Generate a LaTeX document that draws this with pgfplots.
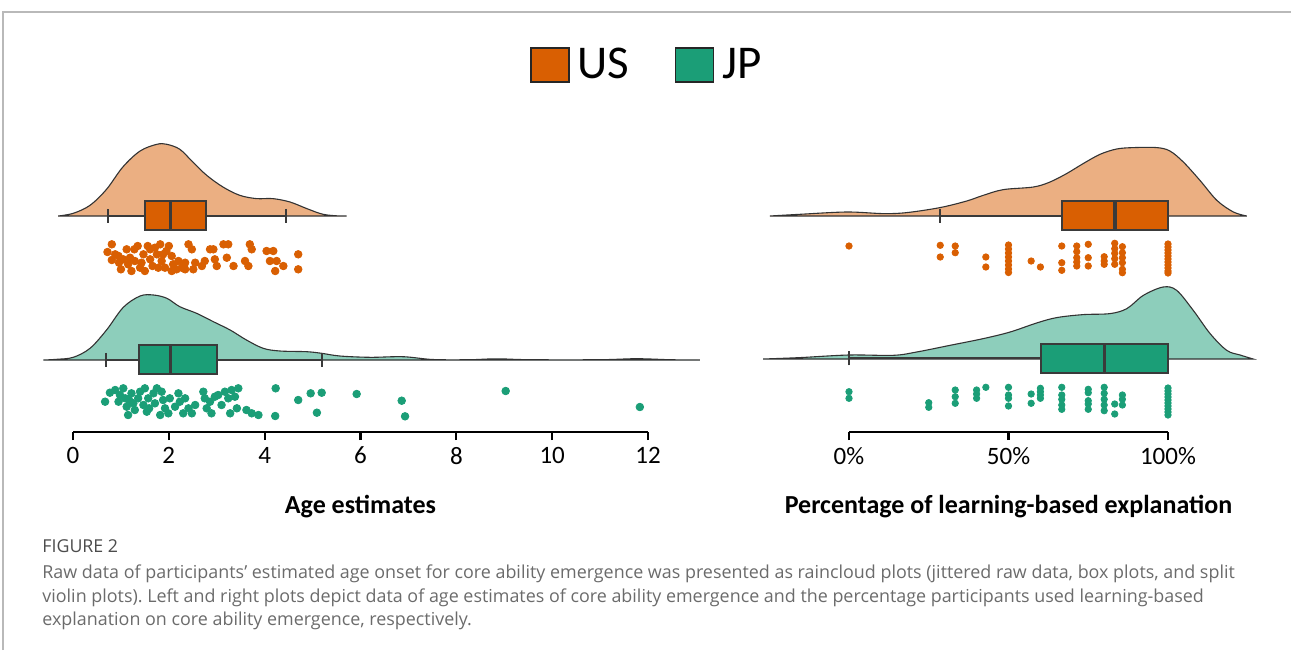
\documentclass[border=0pt]{standalone}
\usepackage{pgfplots}
\pgfplotsset{compat=1.18}
\usepgfplotslibrary{statistics}
\usepackage{fontspec}
\setmainfont{Carlito}
\newfontfamily\capfont{Open Sans}
\definecolor{usDark}{HTML}{D95F02}
\definecolor{usLight}{HTML}{EBAF82}
\definecolor{jpDark}{HTML}{1B9E77}
\definecolor{jpLight}{HTML}{8DCEBB}
\definecolor{boxline}{HTML}{3A3A3A}
\definecolor{capgray}{HTML}{6B6B6B}
\frenchspacing
\pgfplotsset{
  rain/.style={
    scale only axis, clip=false,
    height=150pt, ymin=0, ymax=300,
    axis x line*=bottom, axis y line=none,
    x axis line style={line width=1.25pt, black},
    tick align=outside, major tick length=4pt,
    xtick style={line width=1.1pt, black},
    xticklabel style={font=\fontsize{12.5}{15}\selectfont, black},
    /pgf/number format/assume math mode=true,
    xlabel style={font=\fontsize{13}{16}\selectfont\bfseries, at={(axis description cs:0.5,0)}, anchor=center, yshift=-37.5pt},
    boxplot/draw direction=x,
    boxplot/every median/.style={line width=1.7pt},
  },
  vio/.style={smooth, tension=0.55, draw=black!80, line width=0.55pt},
  bx/.style={draw=boxline, line width=1pt, solid, mark=none},
}
\begin{document}
\begin{tikzpicture}
\useasboundingbox (0,0) rectangle (645.5pt,-325pt);
\draw[gray!55, line width=1pt] (1.6pt,-325pt) -- (1.6pt,-6.2pt) -- (645.5pt,-6.2pt);

% ---------------- Left: age estimates ----------------
\begin{axis}[rain, at={(36.5pt,-216pt)}, anchor=south west,
  width=287.5pt, xmin=0, xmax=12, xtick={0,2,...,12},
  xlabel={Age estimates},
  legend style={at={(0.9983,1.2233)}, anchor=center, draw=none, fill=none,
    legend columns=2, font=\fontsize{23.5}{28}\selectfont,
    nodes={inner sep=1pt},
    /tikz/every odd column/.append style={column sep=3pt},
    /tikz/every even column/.append style={column sep=22pt}}]
\addlegendimage{legend image code/.code={\draw[draw=black!85,fill=usDark,line width=0.6pt] (0pt,-8.5pt) rectangle (19pt,8.5pt);}}
\addlegendentry{US}
\addlegendimage{legend image code/.code={\draw[draw=black!85,fill=jpDark,line width=0.6pt] (0pt,-8.5pt) rectangle (19pt,8.5pt);}}
\addlegendentry{JP}

% US violin
\addplot[vio, fill=usLight] coordinates {
(-0.31,216) (0.006,218.7) (0.355,226.7) (0.70,242.7) (1.04,265) (1.40,281)
(1.75,287.7) (1.96,287.7) (2.23,282.7) (2.50,270) (2.79,256.7) (3.13,245)
(3.48,236.7) (3.83,233.4) (4.17,233.4) (4.53,230) (4.88,223.4) (5.22,217.7)
(5.57,216) (5.71,216)} -- cycle;
\addplot[bx, fill=usDark, boxplot prepared={lower whisker=0.73, lower quartile=1.50,
  median=2.03, upper quartile=2.78, upper whisker=4.45,
  draw position=216.5, box extend=29, whisker extend=14}] coordinates {};
\addplot[only marks, mark=*, mark size=1.9pt, color=usDark] coordinates {
(0.81,187.7)(0.72,180)(0.88,177.7)(0.81,172)(0.96,169.3)(1.00,162.7)(0.95,176)
(1.12,182.7)(1.19,174.3)(1.15,167.7)(1.28,182.7)(1.35,186)(1.29,171)(1.40,164.3)
(1.47,177.7)(1.50,161)(1.56,186)(1.61,172.7)(1.66,166)(1.71,184.3)(1.75,177.7)
(1.82,187.7)(1.85,171)(1.92,164.3)(1.95,181)(2.00,186)(2.06,176)(2.09,167.7)
(2.16,162.7)(2.20,171)(2.27,164.3)(2.34,169.3)(2.41,187.7)(2.48,182.7)(2.51,162.7)
(2.55,169.3)(2.69,166)(2.75,171)(2.86,182.7)(2.93,182.7)(2.96,172.7)(3.00,166)
(3.14,187.7)(3.24,187.7)(3.21,174.3)(3.35,166)(3.59,171)(3.69,187.7)(3.73,182.7)
(3.66,166)(4.04,181)(4.18,181)(4.11,171)(4.25,171)(4.22,161)(4.39,166)(4.70,177.7)
(4.70,162.7)(1.43,169.3)(1.22,161)(1.78,164.3)(2.06,161)(2.34,162.7)(1.88,177.7)
(1.61,182.7)(1.05,172.7)};

% JP violin
\addplot[vio, fill=jpLight] coordinates {
(-0.62,72) (-0.34,72.7) (0.006,74.7) (0.355,83.7) (0.70,102) (1.05,124.7) (1.40,136)
(1.68,137) (1.96,133.7) (2.23,125.3) (2.58,118.7) (2.93,110.3) (3.28,102) (3.62,92)
(3.97,83.7) (4.32,81) (4.88,80.3) (5.19,78.7) (5.57,76) (6.20,74.7) (6.89,75.3)
(7.51,72.5) (8.28,72.3) (8.84,73.2) (9.54,72.3) (11.00,72.3) (11.76,73.3) (12.46,72.3)
(13.08,72)} -- cycle;
\addplot[bx, fill=jpDark, boxplot prepared={lower whisker=0.69, lower quartile=1.38,
  median=2.04, upper quartile=3.0, upper whisker=5.19,
  draw position=72.3, box extend=29, whisker extend=14}] coordinates {};
\addplot[only marks, mark=*, mark size=1.9pt, color=jpDark] coordinates {
(0.67,30.3)(0.77,39.3)(0.88,42)(0.98,37)(0.95,30.3)(1.05,43.7)(1.09,33.7)(1.12,25.3)
(1.15,17)(1.22,38.7)(1.26,28.7)(1.29,22)(1.36,33.7)(1.40,40.3)(1.47,27)(1.50,43.7)
(1.54,20.3)(1.57,33.7)(1.68,38.7)(1.71,28.7)(1.75,43.7)(1.82,17)(1.85,40.3)(1.88,32)
(1.92,23.7)(1.99,18.7)(2.02,33.7)(2.13,25.3)(2.23,30.3)(2.30,18.7)(2.34,33.7)(2.41,23.7)
(2.48,18.7)(2.55,27)(2.72,40.3)(2.75,33.7)(2.79,23.7)(2.86,30.3)(2.89,18.7)(2.96,35.3)
(3.03,37)(3.10,27)(3.17,40.3)(3.24,33.7)(3.28,18.7)(3.31,42)(3.38,35.3)(3.45,43.7)
(3.42,23.7)(3.62,22)(3.73,18.7)(3.87,17)(1.17,32)(1.59,23.7)(2.20,38.7)(4.23,43.7)
(4.22,16)(4.70,32)(4.96,38.7)(5.19,39.3)(5.09,19.3)(5.92,38)(6.86,31.3)(6.93,15.7)
(9.03,41)(11.83,25)};
\end{axis}

% ---------------- Right: percentage ----------------
\begin{axis}[rain, at={(424.5pt,-216pt)}, anchor=south west,
  width=159.5pt, xmin=0, xmax=100, xtick={0,50,100},
  xticklabels={0\%,50\%,100\%},
  xlabel={Percentage of learning-based explanation}]
\addplot[vio, fill=usLight] coordinates {
(-24.8,216) (-15.4,217.7) (-0.7,220) (10.8,218.4) (18.1,219.4) (28.5,224.4) (36.9,231)
(42.1,236.7) (48.4,242.4) (57.8,245) (63.0,250) (68.2,258.4) (73.4,268.4) (78.7,277.7)
(83.9,283) (89.1,284.4) (96.5,284.4) (100.6,281) (104.8,270) (110.0,251.7) (115.3,231.7)
(120.5,220) (124.7,216)} -- cycle;
\addplot[bx, fill=usDark, boxplot prepared={lower whisker=28.5, lower quartile=66.7,
  median=83.4, upper quartile=100, upper whisker=100,
  draw position=216.5, box extend=29, whisker extend=14}] coordinates {};
\addplot[only marks, mark=*, mark size=1.6pt, color=usDark] coordinates {
(0,186)
(28.6,186.7)(28.6,175)
(33.3,186)(33.3,179.3)
(42.9,175)(42.9,165)
(50,187)(50,183)(50,179)(50,175)(50,171)(50,167)(50,163)(50,159.5)
(57.1,171)
(60,165)
(66.7,186)(66.7,169.3)(66.7,161.7)
(71.4,186)(71.4,180.3)(71.4,174.3)(71.4,170)(71.4,166)
(75,187.7)(75,174.3)(75,166)
(80,175.3)(80,171)(80,167.7)
(83.3,188.7)(83.3,183.3)(83.3,178.7)(83.3,173.3)(83.3,167.7)
(85.7,185.3)(85.7,179.3)(85.7,174.3)(85.7,169.3)(85.7,162.7)(85.7,159.3)
(100,188)(100,185)(100,182)(100,179)(100,176)(100,173)(100,170)(100,167)(100,164)(100,161)(100,159)};

\addplot[vio, fill=jpLight] coordinates {
(-26.9,73) (-15.4,74.4) (-0.1,77) (13.9,76.7) (21.2,80) (31.7,86.7) (42.1,93.4)
(50.5,100) (58.8,109) (65.1,114.4) (73.4,117.4) (81.8,118.4) (87.1,123.4) (92.3,136.7)
(98.5,145) (102.7,141.7) (107.9,121.7) (113.2,98.4) (118.4,81.7) (122.6,77) (126.7,73)} -- cycle;
\addplot[bx, fill=jpDark, boxplot prepared={lower whisker=0, lower quartile=60.1,
  median=80.1, upper quartile=100, upper whisker=100,
  draw position=73.7, box extend=29, whisker extend=14}] coordinates {};
\addplot[only marks, mark=*, mark size=1.6pt, color=jpDark] coordinates {
(0,40.3)(0,33.7)
(25,29.3)(25,24.7)
(33.3,42)(33.3,35.3)(33.3,28.7)
(40,42)(40,38)(40,33.7)
(42.9,44.7)
(50,44.7)(50,37)(50,33.7)(50,26)
(57.1,38)(57.1,28.7)
(60,43.7)(60,40.3)(60,37)(60,33.7)
(66.7,44.7)(66.7,37)(66.7,32.7)(66.7,27)(66.7,22.7)
(75,42.7)(75,39.3)(75,31.3)(75,28)(75,22.7)
(80,44.7)(80,38.7)(80,32.7)(80,27)(80,21.3)
(83.3,28)(83.3,18)
(85.7,37)(85.7,32.7)(85.7,27)
(100,44)(100,41)(100,38)(100,35)(100,32)(100,29)(100,26)(100,23)(100,20)(100,17)};
\end{axis}

% ---------------- Caption ----------------
\node[anchor=base west, inner sep=0pt, font=\capfont\fontsize{8.9}{10}\selectfont, text=black!70] at (21pt,-276pt) {FIGURE 2};
\begin{scope}[every node/.style={anchor=base west, inner sep=0pt, font=\capfont\fontsize{8.95}{11}\selectfont, text=capgray}]
\node at (21pt,-289.3pt) {Raw data of participants’ estimated age onset for core ability emergence was presented as raincloud plots (jittered raw data, box plots, and split};
\node at (21pt,-301.2pt) {violin plots). Left and right plots depict data of age estimates of core ability emergence and the percentage participants used learning-based};
\node at (21pt,-312.8pt) {explanation on core ability emergence, respectively.};
\end{scope}
\end{tikzpicture}
\end{document}
